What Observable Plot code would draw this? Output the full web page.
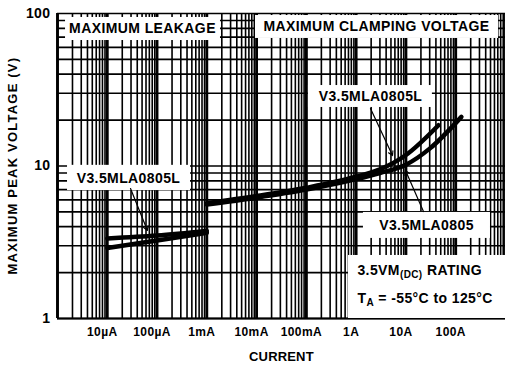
<!DOCTYPE html>
<html>
<head>
<meta charset="utf-8">
<script src="https://cdn.jsdelivr.net/npm/d3@7"></script>
<script src="https://cdn.jsdelivr.net/npm/@observablehq/plot@0.6"></script>
<style>
  html, body { margin: 0; padding: 0; background: #fff; }
  svg text { letter-spacing: 0.4px; }
</style>
</head>
<body>
<div id="chart"></div>
<script>
// ---- data ----
const xTicks = [1e-5, 1e-4, 1e-3, 1e-2, 1e-1, 1, 10, 100];
const xTickLabels = ["10µA", "100µA", "1mA", "10mA", "100mA", "1A", "10A", "100A"];
const yTicks = [1, 10, 100];
const yTickLabels = ["1", "10", "100"];

// leakage region (current in A, voltage in V)
const leakCurrent = [1e-5, 1e-4, 1e-3];
const leakL = [3.35, 3.5, 3.75];      // V3.5MLA0805L
const leakStd = [2.9, 3.25, 3.65];    // V3.5MLA0805

// clamping region
const clampStdCurrent = [1e-3, 1e-2, 1e-1, 1, 3, 10, 30, 130];
const clampStdV = [5.6, 6.2, 7.0, 8.2, 9.0, 10.2, 13, 21];
const clampLCurrent = [1e-3, 1e-2, 1e-1, 1, 3, 10, 45];
const clampLV = [5.7, 6.35, 7.2, 8.5, 9.5, 11.8, 18.5];

// annotation boxes (data coordinates)
const boxText = ["MAXIMUM LEAKAGE", "MAXIMUM CLAMPING VOLTAGE", "V3.5MLA0805L", "V3.5MLA0805L", "V3.5MLA0805", ""];
const boxX1 = [1.45e-6, 9.5e-3, 0.11, 1.59e-6, 1.4, 0.7];
const boxX2 = [1.88e-3, 723, 34, 4.7e-4, 499, 1000];
const boxY1 = [66.5, 68.6, 24.2, 6.9, 3.35, 1];
const boxY2 = [94.2, 97, 33.7, 10.1, 4.96, 2.59];
const boxTextX = [5.1e-5, 2.56, 1.94, 2.67e-5, 25.9];
const boxTextY = [79.7, 82, 28.6, 8.28, 4.07];

const ratingText = ["3.5VM(DC) RATING", "TA = -55°C to 125°C"];
const ratingX = [1.06, 1.06];
const ratingY = [2.06, 1.35];

// arrows
const arrowX1 = [1.94, 22.5, 2.93e-5];
const arrowY1 = [23.8, 5.03, 7.12];
const arrowX2 = [5.37, 9.8, 6.4e-5];
const arrowY2 = [11.7, 9.34, 3.78];

// ---- build ----
const toPts = (xs, ys, name) => xs.map((x, i) => ({x, y: ys[i], name}));
const curves = [
  ...toPts(leakCurrent, leakL, "leakL"),
  ...toPts(leakCurrent, leakStd, "leakStd"),
  ...toPts(clampStdCurrent, clampStdV, "clampStd"),
  ...toPts(clampLCurrent, clampLV, "clampL")
];
const boxes = boxText.map((t, i) => ({t, x1: boxX1[i], x2: boxX2[i], y1: boxY1[i], y2: boxY2[i], tx: boxTextX[i], ty: boxTextY[i]}));
const labels = boxes.filter(b => b.t);
const ratings = ratingText.map((t, i) => ({t, x: ratingX[i], y: ratingY[i]}));
const arrows = arrowX1.map((x, i) => ({x1: x, y1: arrowY1[i], x2: arrowX2[i], y2: arrowY2[i]}));

const xGrid = d3.scaleLog().domain([1e-6, 1e3]).ticks();
const yGrid = d3.scaleLog().domain([1, 100]).ticks();
const xDecades = [1e-6, 1e-5, 1e-4, 1e-3, 1e-2, 1e-1, 1, 10, 100, 1000];

const xFmt = new Map(xTicks.map((v, i) => [v, xTickLabels[i]]));
const yFmt = new Map(yTicks.map((v, i) => [v, yTickLabels[i]]));

const chart = Plot.plot({
  width: 505,
  height: 369,
  marginLeft: 57,
  marginRight: 0,
  marginTop: 13,
  marginBottom: 51,
  style: {fontFamily: "'Liberation Sans', Arial, sans-serif", fontWeight: "bold", color: "black", background: "white"},
  x: {type: "log", domain: [1e-6, 1e3]},
  y: {type: "log", domain: [1, 100]},
  marks: [
    Plot.gridX(xGrid, {stroke: "black", strokeOpacity: 1, strokeWidth: 1.6}),
    Plot.gridY(yGrid, {stroke: "black", strokeOpacity: 1, strokeWidth: 1.7}),
    Plot.ruleX(xDecades, {stroke: "black", strokeWidth: 2.8}),
    Plot.ruleX([1e-6], {stroke: "black", strokeWidth: 2}),
    Plot.ruleY([1], {stroke: "black", strokeWidth: 2}),
    Plot.rect(boxes, {x1: "x1", x2: "x2", y1: "y1", y2: "y2", fill: "white"}),
    Plot.line(curves, {x: "x", y: "y", z: "name", stroke: "black", strokeWidth: 4.5, curve: "monotone-x"}),
    Plot.arrow(arrows, {x1: "x1", y1: "y1", x2: "x2", y2: "y2", stroke: "black", strokeWidth: 1.2, headLength: 6, bend: false}),
    Plot.text(labels, {x: "tx", y: "ty", text: "t", fontSize: 14, fontWeight: "bold", fill: "black"}),
    Plot.text(ratings, {x: "x", y: "y", text: "t", fontSize: 14, fontWeight: "bold", fill: "black", textAnchor: "start"}),
    Plot.axisX(xTicks, {tickSize: 0, tickPadding: 9, dx: -5, tickFormat: d => xFmt.get(d), fontSize: 12, fontWeight: "bold", label: null}),
    Plot.axisY(yTicks, {tickSize: 0, tickPadding: 7, tickFormat: d => yFmt.get(d), fontSize: 14, fontWeight: "bold", label: null}),
    Plot.text(["CURRENT"], {frameAnchor: "bottom", dy: 42, fontSize: 13, fontWeight: "bold", fill: "black"}),
    Plot.text(["MAXIMUM PEAK VOLTAGE (V)"], {frameAnchor: "left", textAnchor: "middle", dx: -45, rotate: -90, fontSize: 13, fontWeight: "bold", fill: "black"})
  ]
});

document.getElementById("chart").appendChild(chart);

// subscripts, and stretch some titles to the reference's wider face
d3.select(chart).selectAll("text").each(function() {
  const el = d3.select(this);
  const t = el.text();
  if (t === "3.5VM(DC) RATING") {
    el.text(null);
    el.append("tspan").text("3.5VM");
    el.append("tspan").attr("font-size", 10).attr("dy", 3).text("(DC)");
    el.append("tspan").attr("dy", -3).text(" RATING");
  } else if (t === "TA = -55°C to 125°C") {
    el.text(null);
    el.append("tspan").text("T");
    el.append("tspan").attr("font-size", 10).attr("dy", 3).text("A");
    el.append("tspan").attr("dy", -3).text(" = -55°C to 125°C");
  } else if (t === "MAXIMUM PEAK VOLTAGE (V)") {
    el.attr("textLength", 217).attr("lengthAdjust", "spacing");
  } else if (t === "CURRENT") {
    el.attr("textLength", 65).attr("lengthAdjust", "spacing");
  }
});
</script>
</body>
</html>
